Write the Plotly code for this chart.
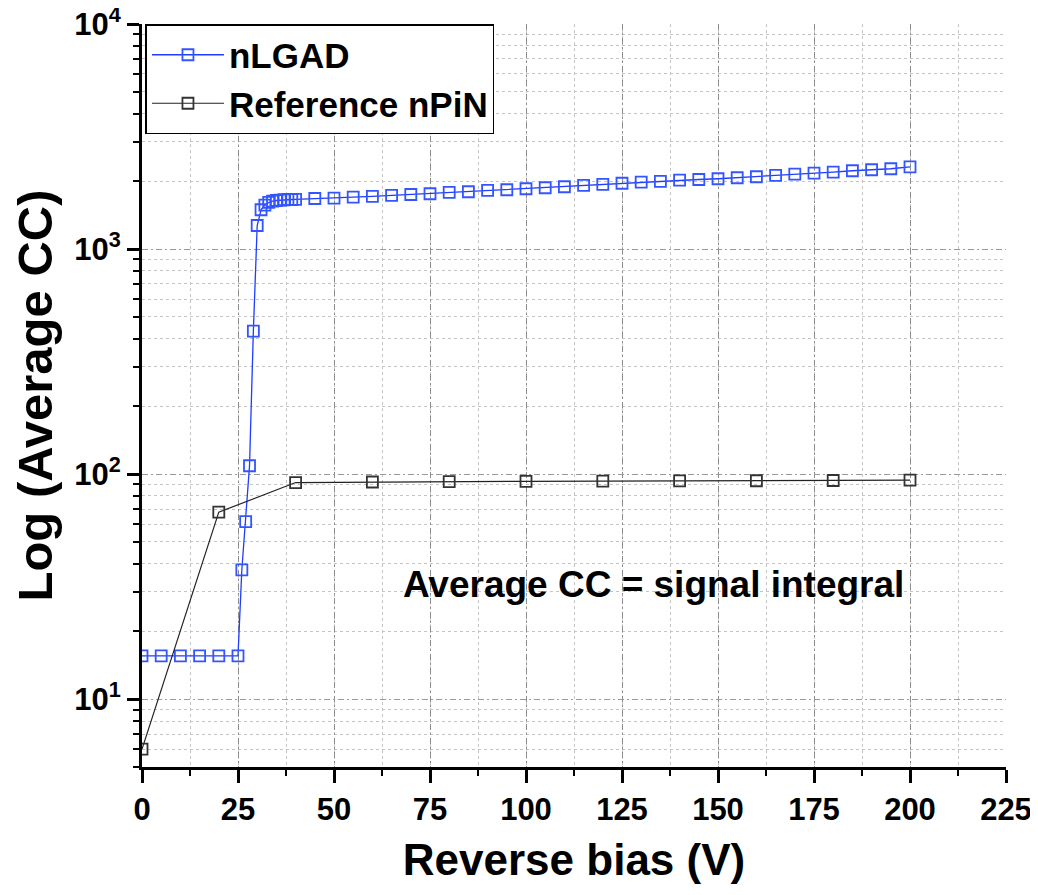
import plotly.graph_objects as go

# ---- data ----
nlgad_x = [0, 5, 10, 15, 20, 25, 26, 27, 28, 29, 30, 31, 32, 33, 34, 35, 36, 37, 38, 39, 40,
           45, 50, 55, 60, 65, 70, 75, 80, 85, 90, 95, 100, 105, 110, 115, 120, 125, 130,
           135, 140, 145, 150, 155, 160, 165, 170, 175, 180, 185, 190, 195, 200]
nlgad_y = [15.6, 15.6, 15.6, 15.6, 15.6, 15.6, 37.6, 61.5, 109, 432, 1273, 1495, 1569, 1611,
           1634, 1644, 1651, 1656, 1661, 1661, 1662, 1678, 1685, 1702, 1713, 1731, 1748, 1761,
           1785, 1798, 1822, 1835, 1854, 1873, 1892, 1918, 1937, 1961, 1985, 1997, 2026, 2038,
           2053, 2074, 2096, 2124, 2154, 2177, 2199, 2228, 2251, 2275, 2320]

npin_x = [0, 20, 40, 60, 80, 100, 120, 140, 160, 180, 200]
npin_y = [6.0, 67.8, 91.8, 92.3, 92.6, 92.9, 93.1, 93.3, 93.5, 93.7, 94.0]

x_ticks = [0, 25, 50, 75, 100, 125, 150, 175, 200, 225]
y_ticks = [10, 100, 1000, 10000]
y_ticktext = ["10<sup>1</sup>", "10<sup>2</sup>", "10<sup>3</sup>", "10<sup>4</sup>"]
y_minor = [m * d for d in (1, 10, 100, 1000) for m in range(2, 10)]

FONT = "Liberation Sans, Arial, sans-serif"

fig = go.Figure()
fig.add_trace(go.Scatter(
    x=nlgad_x, y=nlgad_y, name="nLGAD", mode="lines+markers",
    line=dict(color="#1f3cff", width=1.3),
    marker=dict(symbol="square-open", size=11, color="#3355ff",
                line=dict(width=1.8, color="#3355ff")),
))
fig.add_trace(go.Scatter(
    x=npin_x, y=npin_y, name="Reference nPiN", mode="lines+markers",
    line=dict(color="#222222", width=1.2),
    marker=dict(symbol="square-open", size=11, color="#333333",
                line=dict(width=1.8, color="#333333")),
))

fig.add_annotation(
    x=133.2, y=1.508, xref="x", yref="y",
    text="Average CC = signal integral", showarrow=False,
    font=dict(family=FONT, size=37, color="black", weight="bold"),
)

fig.update_layout(
    width=1030, height=887,
    margin=dict(l=134, r=32, t=16, b=128),
    paper_bgcolor="white", plot_bgcolor="white",
    font=dict(family=FONT, color="black"),
    showlegend=True,
    legend=dict(
        x=0.004, y=1.0, xanchor="left", yanchor="top",
        bgcolor="white", bordercolor="black", borderwidth=1.5,
        font=dict(family=FONT, size=35, color="black", weight="bold"),
        itemwidth=72, tracegroupgap=0,
    ),
    xaxis=dict(
        range=[0, 225], tickvals=x_ticks, automargin=False,
        ticklabeloverflow="allow",
        showline=True, linecolor="black", linewidth=3,
        ticks="outside", ticklen=13, tickwidth=3, tickcolor="black",
        tickfont=dict(family=FONT, size=31, color="black", weight="bold"),
        ticklabelstandoff=0,
        showgrid=True, gridcolor="#8c8c8c", gridwidth=1, griddash="6px,3px,2px,3px",
        zeroline=False,
        minor=dict(dtick=12.5, tick0=0, ticks="outside", ticklen=6, tickwidth=2,
                   tickcolor="black", showgrid=True, gridcolor="#c4c4c4",
                   griddash="3px,3px", gridwidth=1),
        title=dict(text="Reverse bias (V)", standoff=18,
                   font=dict(family=FONT, size=44, color="black", weight="bold")),
    ),
    yaxis=dict(
        type="log", range=[0.69897, 4], automargin=False,
        ticklabeloverflow="allow",
        tickvals=y_ticks, ticktext=y_ticktext,
        showline=True, linecolor="black", linewidth=3,
        ticks="outside", ticklen=12, tickwidth=3, tickcolor="black",
        tickfont=dict(family=FONT, size=31, color="black", weight="bold"),
        showgrid=True, gridcolor="#9a9a9a", gridwidth=1, griddash="6px,3px,2px,3px",
        zeroline=False,
        minor=dict(tickvals=y_minor, ticks="outside", ticklen=6, tickwidth=2,
                   tickcolor="black", showgrid=True, gridcolor="#c4c4c4",
                   griddash="3px,3px", gridwidth=1),
        title=dict(text="Log (Average CC)", standoff=12,
                   font=dict(family=FONT, size=49, color="black", weight="bold")),
    ),
)

fig.write_html("out.html")
